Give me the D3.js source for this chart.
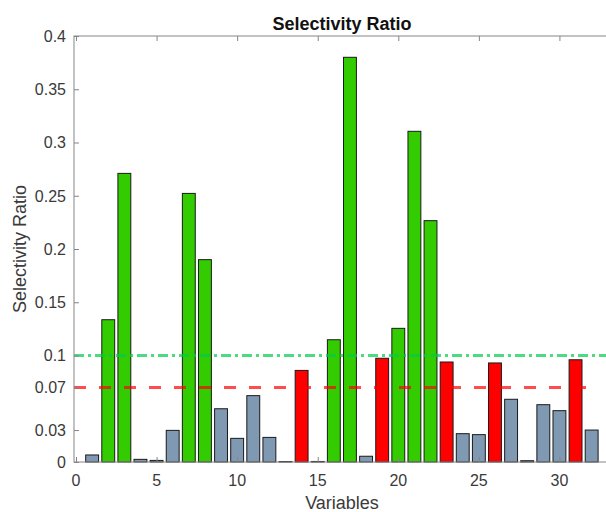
<!DOCTYPE html>
<html>
<head>
<meta charset="utf-8">
<script src="https://cdn.jsdelivr.net/npm/d3@7"></script>
<style>
  body { margin: 0; background: #fff; }
  svg { display: block; font-family: "Liberation Sans", Arial, Helvetica, sans-serif; }
</style>
</head>
<body>
<svg width="606" height="512"></svg>
<script>
// data
var variables = d3.range(1, 33);
var ratios = [0.0066, 0.1336, 0.271, 0.0025, 0.0015, 0.0297, 0.2522, 0.190,
              0.050, 0.0222, 0.0623, 0.0231, 0.0004, 0.086, 0.0005, 0.1148,
              0.380, 0.0054, 0.0974, 0.1255, 0.3105, 0.2266, 0.0939, 0.0266,
              0.0257, 0.093, 0.0589, 0.0012, 0.0538, 0.0482, 0.096, 0.030];
var highLimit = 0.1;
var lowLimit = 0.07;
var yTicks = [0, 0.03, 0.07, 0.1, 0.15, 0.2, 0.25, 0.3, 0.35, 0.4];
var xTicks = [0, 5, 10, 15, 20, 25, 30];

var vis = function() {
    var svg = d3.select("svg");
    var left = 74, top = 36, bottom = 462, right = 611;

    var x = d3.scaleLinear().domain([-0.125, 33.2]).range([left, right]);
    var y = d3.scaleLinear().domain([0, 0.4]).range([bottom, top]);
    var bw = 0.8 * (x(1) - x(0));

    function barColor(v) {
        if (v > highLimit) return "#33cc00";
        if (v > lowLimit) return "#ff0000";
        return "#7f99b2";
    }

    // bars
    svg.append("g").selectAll("rect")
        .data(variables)
        .enter()
        .append("rect")
        .attr("x", function(d) { return x(d) - bw / 2; })
        .attr("y", function(d, i) { return y(ratios[i]); })
        .attr("width", bw)
        .attr("height", function(d, i) { return y(0) - y(ratios[i]); })
        .style("fill", function(d, i) { return barColor(ratios[i]); })
        .style("stroke", "#1a1a1a")
        .style("stroke-width", 1);

    // threshold lines
    svg.append("line")
        .attr("x1", left).attr("x2", right)
        .attr("y1", y(highLimit)).attr("y2", y(highLimit))
        .style("stroke", "rgb(0,204,77)")
        .style("stroke-opacity", 0.7)
        .style("stroke-width", 3)
        .style("stroke-dasharray", "10,4,3,4");
    svg.append("line")
        .attr("x1", left).attr("x2", 597)
        .attr("y1", y(lowLimit)).attr("y2", y(lowLimit))
        .style("stroke", "#ff0000")
        .style("stroke-opacity", 0.7)
        .style("stroke-width", 3)
        .style("stroke-dasharray", "12,13");

    // axes, ticks pointing inward
    var axisCol = "#858585";
    var textCol = "#3a3a3a";

    var yAxis = d3.axisRight(y).tickValues(yTicks).tickSize(5).tickFormat("");
    svg.append("g").attr("transform", "translate(" + left + ",0)").call(yAxis);
    var yAxisR = d3.axisLeft(y).tickValues(yTicks).tickSize(5).tickFormat("");
    svg.append("g").attr("transform", "translate(" + right + ",0)").call(yAxisR);
    var xAxis = d3.axisTop(x).tickValues(xTicks).tickSize(5).tickFormat("");
    svg.append("g").attr("transform", "translate(0," + bottom + ")").call(xAxis);
    var xAxisT = d3.axisBottom(x).tickValues(xTicks).tickSize(5).tickFormat("");
    svg.append("g").attr("transform", "translate(0," + top + ")").call(xAxisT);

    svg.selectAll(".domain").remove();
    svg.selectAll(".tick line").style("stroke", axisCol);

    svg.append("rect")
        .attr("x", left).attr("y", top)
        .attr("width", right - left).attr("height", bottom - top)
        .style("fill", "none")
        .style("stroke", axisCol)
        .style("stroke-width", 1);

    // tick labels
    svg.append("g").selectAll("text")
        .data(yTicks)
        .enter()
        .append("text")
        .attr("x", left - 8)
        .attr("y", function(d) { return y(d); })
        .attr("dy", "0.36em")
        .attr("text-anchor", "end")
        .style("font-size", "16px")
        .style("fill", textCol)
        .text(function(d) { return String(d); });

    svg.append("g").selectAll("text")
        .data(xTicks)
        .enter()
        .append("text")
        .attr("x", function(d) { return x(d); })
        .attr("y", 486)
        .attr("text-anchor", "middle")
        .style("font-size", "16px")
        .style("fill", textCol)
        .text(function(d) { return String(d); });

    // titles
    svg.append("text")
        .attr("x", 342).attr("y", 30)
        .attr("text-anchor", "middle")
        .style("font-size", "18px")
        .style("font-weight", "bold")
        .style("fill", "#111")
        .text("Selectivity Ratio");
    svg.append("text")
        .attr("x", 342).attr("y", 509)
        .attr("text-anchor", "middle")
        .style("font-size", "18px")
        .style("fill", textCol)
        .text("Variables");
    svg.append("text")
        .attr("transform", "translate(26,249) rotate(-90)")
        .attr("text-anchor", "middle")
        .style("font-size", "18px")
        .style("fill", textCol)
        .text("Selectivity Ratio");

    return {};
}();
</script>
</body>
</html>
